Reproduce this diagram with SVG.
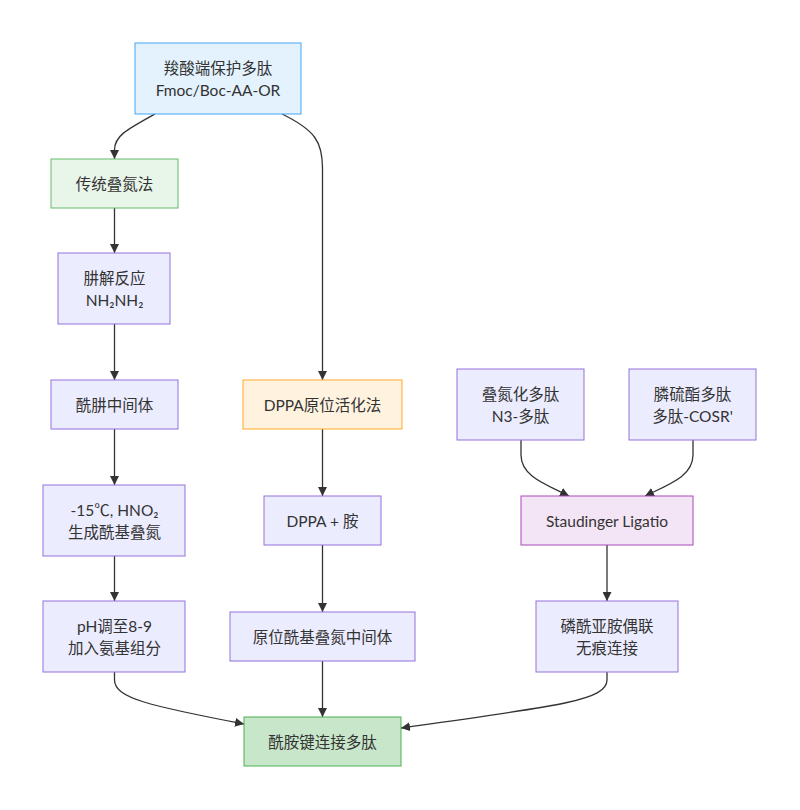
<svg xmlns="http://www.w3.org/2000/svg" width="800" height="810" viewBox="0 0 800 810">
<style>
text{font-family:Lato,"Noto Sans CJK SC",sans-serif;font-size:15.5px;fill:#333;text-anchor:middle;dominant-baseline:central}
.n rect{fill:#ECECFF;stroke:#9370DB;stroke-width:1}
.blue rect{fill:#E3F2FD;stroke:#42A5F5}
.green rect{fill:#E8F5E9;stroke:#66BB6A}
.orange rect{fill:#FFF3E0;stroke:#FFA726}
.purple rect{fill:#F3E5F5;stroke:#AB47BC}
.final rect{fill:#C8E6C9;stroke:#4CAF50}
.e path{fill:none;stroke:#333;stroke-width:1.3;marker-end:url(#arr)}
</style>
<defs>
<marker id="arr" viewBox="0 0 10 10" refX="10" refY="5" markerWidth="9" markerHeight="9" markerUnits="userSpaceOnUse" orient="auto">
<path d="M0,0 L10,5 L0,10 z" fill="#333"/>
</marker>
</defs>
<rect width="800" height="810" fill="#fff"/>
<g id="edges" class="e">
<path d="M155,114 C126,130 114.5,136 114.5,150 L114.5,159"/>
<path d="M282,114 C315,130 322.5,142 322.5,168 L322.5,380"/>
<path d="M114.5,208 L114.5,253"/>
<path d="M114.5,324 L114.5,380"/>
<path d="M114.5,429 L114.5,485"/>
<path d="M114.5,556 L114.5,601"/>
<path d="M322.5,429 L322.5,496"/>
<path d="M322.5,545 L322.5,612"/>
<path d="M322.5,661 L322.5,717"/>
<path d="M114.5,672 L114.5,680 C114.5,698 150,706 244,724"/>
<path d="M607,672 L607,680 C607,700 560,706 401,728"/>
<path d="M521,440 L521,455 C521,476 545,484 569,496"/>
<path d="M693,440 L693,455 C693,476 670,484 645,496"/>
<path d="M607,545 L607,601"/>
</g>
<g id="A" class="n blue"><rect x="135" y="43" width="166" height="71"/><text x="218" y="67.5">羧酸端保护多肽</text><text x="218" y="89.5">Fmoc/Boc-AA-OR</text></g>
<g id="B" class="n green"><rect x="51" y="159" width="127" height="49"/><text x="114.5" y="183.5">传统叠氮法</text></g>
<g id="C" class="n"><rect x="58" y="253" width="112" height="71"/><text x="114.5" y="277.5">肼解反应</text><text x="114.5" y="299.5">NH₂NH₂</text></g>
<g id="D" class="n"><rect x="51" y="380" width="127" height="49"/><text x="114.5" y="404.5">酰肼中间体</text></g>
<g id="E" class="n"><rect x="43" y="485" width="142" height="71"/><text x="114.5" y="509.5">-15℃, HNO₂</text><text x="114.5" y="531.5">生成酰基叠氮</text></g>
<g id="F" class="n"><rect x="43" y="601" width="142" height="71"/><text x="114.5" y="625.5">pH调至8-9</text><text x="114.5" y="647.5">加入氨基组分</text></g>
<g id="G" class="n orange"><rect x="243" y="380" width="159" height="49"/><text x="322.5" y="404.5">DPPA原位活化法</text></g>
<g id="H" class="n"><rect x="264" y="496" width="117" height="49"/><text x="322.5" y="520.5">DPPA + 胺</text></g>
<g id="I" class="n"><rect x="230" y="612" width="185" height="49"/><text x="322.5" y="636.5">原位酰基叠氮中间体</text></g>
<g id="J" class="n final"><rect x="244" y="717" width="157" height="49"/><text x="322.5" y="741.5">酰胺键连接多肽</text></g>
<g id="K" class="n"><rect x="457" y="369" width="127" height="71"/><text x="520.5" y="393.5">叠氮化多肽</text><text x="520.5" y="415.5">N3-多肽</text></g>
<g id="L" class="n"><rect x="629" y="369" width="127" height="71"/><text x="692.5" y="393.5">膦硫酯多肽</text><text x="692.5" y="415.5">多肽-COSR'</text></g>
<g id="M" class="n purple"><rect x="521" y="496" width="172" height="49"/><text x="607" y="520.5">Staudinger Ligatio</text></g>
<g id="N" class="n"><rect x="536" y="601" width="142" height="71"/><text x="607" y="625.5">磷酰亚胺偶联</text><text x="607" y="647.5">无痕连接</text></g>
</svg>
